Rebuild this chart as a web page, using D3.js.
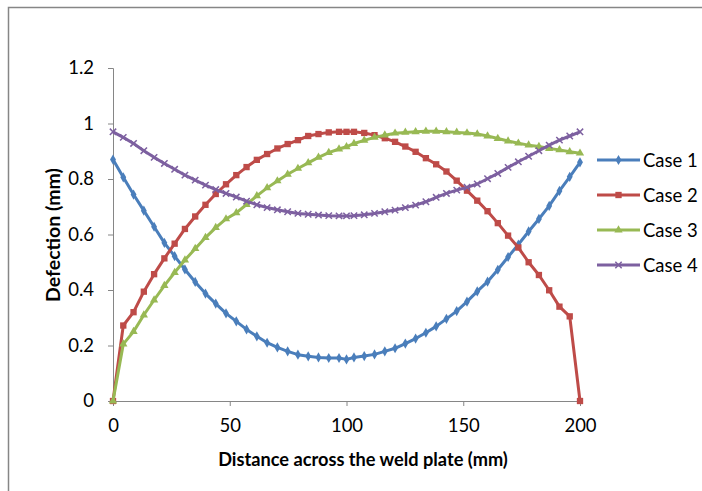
<!DOCTYPE html>
<html>
<head>
<meta charset="utf-8">
<script src="https://cdn.jsdelivr.net/npm/d3@7"></script>
<style>
  html, body { margin: 0; padding: 0; background: #fff; }
  svg { display: block; }
  text { font-family: Lato, "Open Sans", sans-serif; fill: #000; }
</style>
</head>
<body>
<svg id="chart" width="702" height="491"></svg>
<script>
// ---- data ----
const positions = [0,4.4,8.8,13.2,17.6,22,26.4,30.8,35.2,39.6,44,48.4,52.8,57.2,61.6,66,70.4,74.8,79.2,83.6,88,92.4,96.8,
  100,103.2,107.6,112,116.4,120.8,125.2,129.6,134,138.4,142.8,147.2,151.6,156,160.4,164.8,169.2,173.6,178,182.4,186.8,191.2,195.6,200];

const case1 = [0.870,0.806,0.744,0.686,0.628,0.570,0.522,0.474,0.429,0.387,0.351,0.316,0.287,0.258,0.233,0.210,0.193,0.179,0.167,0.161,0.157,0.155,0.155,
  0.150,0.157,0.162,0.168,0.179,0.190,0.207,0.225,0.246,0.269,0.296,0.324,0.358,0.395,0.430,0.473,0.519,0.564,0.611,0.656,0.703,0.757,0.808,0.860];

const case2 = [0,0.272,0.320,0.394,0.457,0.514,0.567,0.620,0.665,0.707,0.746,0.781,0.814,0.843,0.869,0.890,0.910,0.926,0.940,0.955,0.962,0.968,0.970,
  0.970,0.970,0.966,0.958,0.947,0.934,0.917,0.898,0.875,0.853,0.827,0.794,0.758,0.722,0.684,0.641,0.596,0.553,0.500,0.454,0.399,0.340,0.305,0];

const case3 = [0,0.205,0.250,0.310,0.364,0.416,0.463,0.508,0.549,0.589,0.625,0.656,0.678,0.708,0.739,0.768,0.793,0.817,0.838,0.858,0.878,0.895,0.908,
  0.916,0.928,0.939,0.950,0.958,0.965,0.968,0.970,0.972,0.972,0.970,0.968,0.966,0.962,0.955,0.946,0.937,0.929,0.922,0.917,0.910,0.905,0.898,0.893];

const case4 = [0.970,0.950,0.928,0.902,0.878,0.856,0.835,0.814,0.796,0.778,0.762,0.748,0.735,0.720,0.707,0.697,0.689,0.682,0.676,0.673,0.670,0.668,0.667,
  0.667,0.668,0.671,0.676,0.682,0.688,0.697,0.706,0.718,0.734,0.748,0.760,0.770,0.782,0.801,0.820,0.842,0.862,0.882,0.902,0.922,0.940,0.955,0.970];

const seriesNames = ["Case 1","Case 2","Case 3","Case 4"];
const seriesValues = [case1, case2, case3, case4];
const xTicks = [0,50,100,150,200];
const yTicks = [0,0.2,0.4,0.6,0.8,1,1.2];
const xTitle = "Distance across the weld plate (mm)";
const yTitle = "Defection (mm)";

// ---- styling ----
const colors = ["#4A7EBB","#BE4B48","#98B954","#7D60A0"];
const symbols = [d3.symbolDiamond, d3.symbolSquare, d3.symbolTriangle, d3.symbolX];
const symSizes = [30, 40, 30, 28];

const svg = d3.select("#chart");

// outer chart border (cropped)
svg.append("path")
  .attr("d", "M8.5,491 L8.5,7.5 L702,7.5")
  .attr("fill","none").attr("stroke","#868686").attr("stroke-width",1.5);

const plot = {left:113, right:580, top:68, bottom:401};
const x = d3.scaleLinear().domain([0,200]).range([plot.left, plot.right]);
const y = d3.scaleLinear().domain([0,1.2]).range([plot.bottom, plot.top]);

// axes
const yAxis = svg.append("g").attr("transform",`translate(${plot.left},0)`)
  .call(d3.axisLeft(y).tickValues(yTicks).tickSize(5).tickPadding(14).tickFormat(d => d3.format("~g")(d)));
const xAxis = svg.append("g").attr("transform",`translate(0,${plot.bottom})`)
  .call(d3.axisBottom(x).tickValues(xTicks).tickSize(5).tickPadding(13).tickFormat(d3.format("d")));
[yAxis, xAxis].forEach(a => {
  a.select(".domain").attr("stroke","#868686").attr("stroke-width",1);
  a.selectAll(".tick line").attr("stroke","#868686");
  a.selectAll(".tick text").attr("font-family","Lato, sans-serif").attr("font-size",18.5).attr("fill","#000");
});

// axis titles
svg.append("text").attr("x", 363).attr("y", 466)
  .attr("text-anchor","middle").attr("font-weight","bold").attr("font-size",18.2)
  .text(xTitle);
svg.append("text").attr("transform",`translate(60,235) rotate(-90)`)
  .attr("text-anchor","middle").attr("font-weight","bold").attr("font-size",19.5)
  .text(yTitle);

function drawMarker(sel, s) {
  sel.attr("d", d3.symbol().type(symbols[s]).size(symSizes[s]))
    .attr("fill", s===3 ? "none" : colors[s])
    .attr("stroke", colors[s]).attr("stroke-width", s===3 ? 1.5 : 0);
}

// series
const line = d3.line().x((d,i) => x(positions[i])).y(d => y(d));
seriesValues.forEach((vals, s) => {
  const g = svg.append("g");
  g.append("path").datum(vals).attr("d", line)
    .attr("fill","none").attr("stroke",colors[s]).attr("stroke-width",3).attr("stroke-linejoin","round");
  g.selectAll("path.m").data(vals).join("path").attr("class","m")
    .attr("transform",(d,i) => `translate(${x(positions[i])},${y(d)})`)
    .call(drawMarker, s);
});

// legend
const legend = svg.append("g");
seriesNames.forEach((name, s) => {
  const ly = 160 + s*35;
  legend.append("line").attr("x1",597).attr("x2",640).attr("y1",ly).attr("y2",ly)
    .attr("stroke",colors[s]).attr("stroke-width",3);
  legend.append("path").attr("transform",`translate(618.5,${ly})`).call(drawMarker, s);
  legend.append("text").attr("x",643).attr("y",ly+6.5).attr("font-size",18.5).text(name);
});
</script>
</body>
</html>
